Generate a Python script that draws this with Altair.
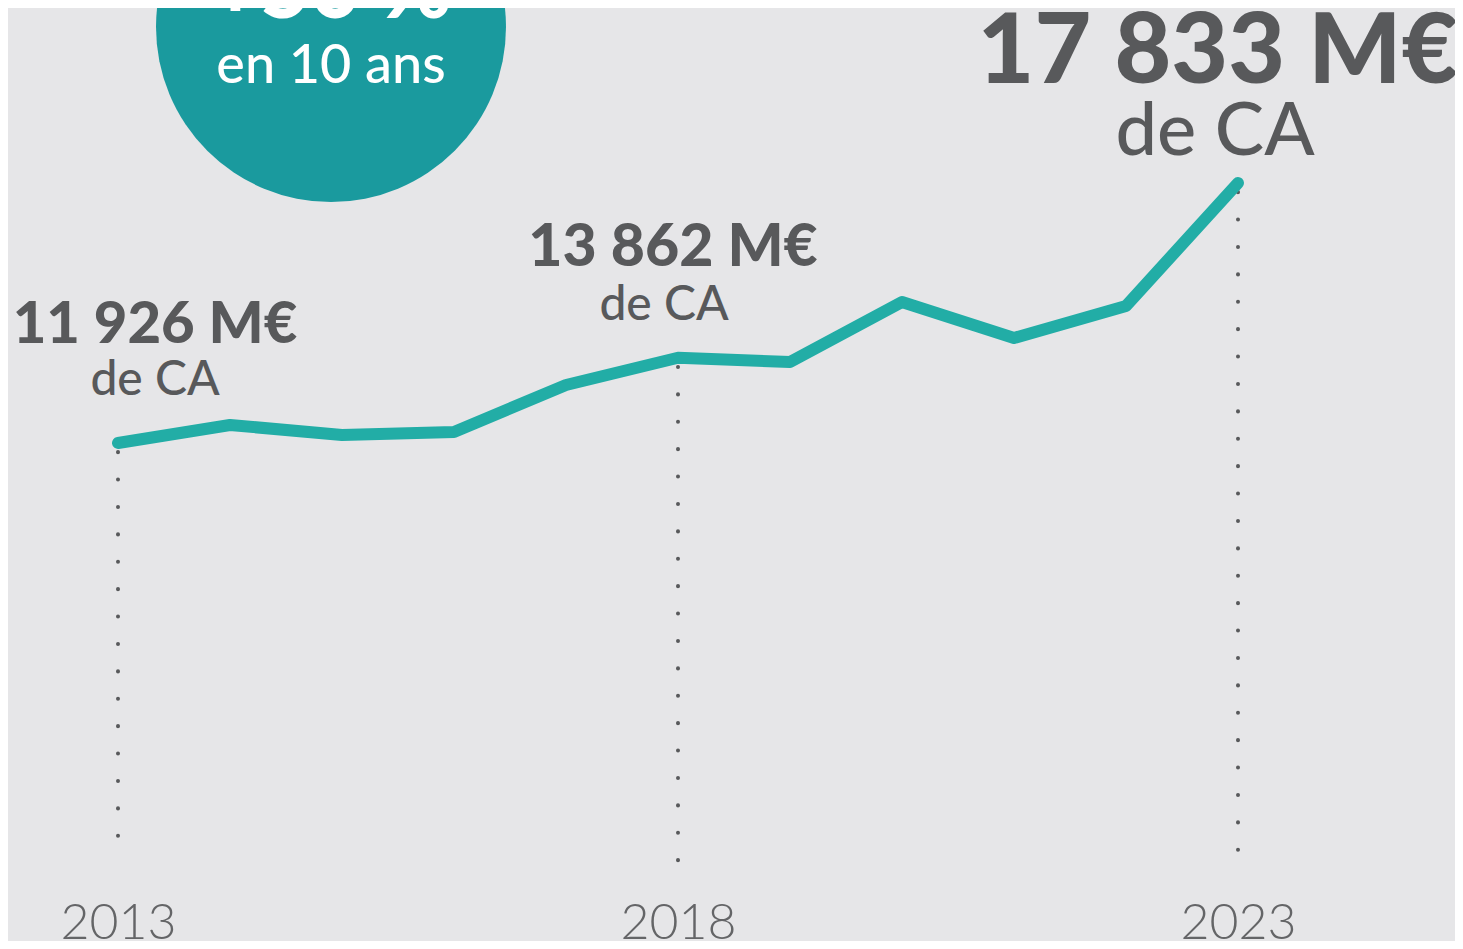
import altair as alt
import pandas as pd

years = [2013, 2014, 2015, 2016, 2017, 2018, 2019, 2020, 2021, 2022, 2023]
ca = [11926, 12335, 12108, 12176, 13244, 13862, 13766, 15130, 14312, 15039, 17833]

key_years = [2013, 2018, 2023]
key_values = [11926, 13862, 17833]
key_labels = ["11 926 M€", "13 862 M€", "17 833 M€"]
sub_label = "de CA"
badge_big = "+50 %"
badge_small = "en 10 ans"

df = pd.DataFrame({"year": years, "ca": ca})
kdf = pd.DataFrame({"year": key_years, "ca": key_values, "label": key_labels, "sub": [sub_label] * 3})

W, H = 1447, 933
xscale = alt.Scale(domain=[2013 - 110 / 112, 2013 + (W - 110) / 112], nice=False, zero=False)
yscale = alt.Scale(domain=[11926 - (H - 435) * 22.72, 11926 + 435 * 22.72], nice=False, zero=False)

X = alt.X("year:Q", scale=xscale,
          axis=alt.Axis(values=key_years, format="d", title=None, grid=False, domain=False,
                        ticks=False, tickSize=0, offset=-50, labelPadding=47,
                        labelBaseline="alphabetic", labelFont="Lato", labelFontWeight=300,
                        labelFontSize=50, labelColor="#646567", labelFlush=False))
Y = alt.Y("ca:Q", scale=yscale, axis=None)

base_k = alt.Chart(kdf)

rules = base_k.mark_rule(color="#58595b", strokeWidth=4, strokeDash=[0.1, 27.3],
                         strokeDashOffset=18.3, strokeCap="round").encode(
    x=X, y=Y, y2=alt.value(855))

line = alt.Chart(df).mark_line(color="#22ada6", strokeWidth=12, strokeCap="round",
                               strokeJoin="round").encode(x=X, y=Y)

GREY = "#58595b"
label_specs = [
    # (year, bold size, bold dx, bold dy, sub size, sub dx, sub dy)
    (2013, 58, 37, -100, 48, 37, -48),
    (2018, 59, -5, -92, 48, -14, -38),
    (2023, 98, -20, -100, 74, -23, -28),
]
texts = []
for yr, bs, bdx, bdy, ss, sdx, sdy in label_specs:
    sub = base_k.transform_filter(alt.datum.year == yr)
    texts.append(sub.mark_text(font="Lato", fontWeight=900, fontSize=bs, color=GREY,
                               baseline="alphabetic", align="center", dx=bdx, dy=bdy)
                 .encode(x=X, y=Y, text="label:N"))
    texts.append(sub.mark_text(font="Lato", fontWeight=500, fontSize=ss, color=GREY,
                               baseline="alphabetic", align="center", dx=sdx, dy=sdy)
                 .encode(x=X, y=Y, text="sub:N"))

badge_df = pd.DataFrame({"big": [badge_big], "small": [badge_small]})
badge = alt.Chart(badge_df).mark_circle(color="#1a9a9e", opacity=1, size=122500).encode(
    x=alt.value(323), y=alt.value(19))
badge_t1 = alt.Chart(badge_df).mark_text(font="Lato", fontWeight=900, fontSize=86, color="white",
                                         baseline="alphabetic", align="center").encode(
    x=alt.value(323), y=alt.value(10), text="big:N")
badge_t2 = alt.Chart(badge_df).mark_text(font="Lato", fontWeight=500, fontSize=54, color="white",
                                         baseline="alphabetic", align="center").encode(
    x=alt.value(323), y=alt.value(75), text="small:N")

chart = alt.layer(rules, line, *texts, badge, badge_t1, badge_t2).properties(
    width=W, height=H, autosize=alt.AutoSizeParams(type="none"), padding=0,
    background="#e6e6e8"
).configure_view(stroke=None)

chart.save("out.html", embed_options={"renderer": "svg", "actions": False})
